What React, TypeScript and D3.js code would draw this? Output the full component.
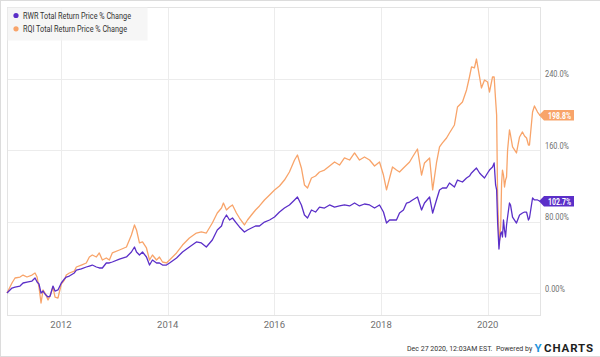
import React from "react";
import * as d3 from "d3";

const dates = [
  "2010-12-27","2011-01-30","2011-02-20","2011-03-26","2011-04-16","2011-05-13","2011-06-16","2011-07-07","2011-07-21","2011-08-03",
  "2011-08-17","2011-08-31","2011-09-13","2011-10-04","2011-10-18","2011-11-07","2011-11-21","2011-12-11","2012-01-03","2012-01-24",
  "2012-02-06","2012-02-27","2012-04-01","2012-04-15","2012-05-19","2012-06-22","2012-07-13","2012-08-02","2012-08-30","2012-09-19",
  "2012-10-10","2012-11-06","2012-11-27","2012-12-17","2013-02-04","2013-03-24","2013-04-27","2013-05-18","2013-06-01","2013-06-21",
  "2013-07-12","2013-08-08","2013-08-29","2013-09-18","2013-10-16","2013-11-05","2013-11-26","2013-12-23","2014-01-13","2014-03-02",
  "2014-04-12","2014-05-29","2014-07-16","2014-08-19","2014-09-22","2014-11-02","2014-12-06","2015-01-04","2015-01-17","2015-02-07",
  "2015-02-28","2015-03-20","2015-04-16","2015-05-07","2015-06-10","2015-07-01","2015-07-28","2015-08-25","2015-09-21","2015-10-25",
  "2015-11-29","2016-01-02","2016-02-05","2016-03-10","2016-04-13","2016-05-18","2016-06-07","2016-07-04","2016-07-25","2016-08-15",
  "2016-09-11","2016-10-09","2016-11-05","2016-12-09","2017-01-13","2017-02-16","2017-03-22","2017-04-25","2017-05-30","2017-07-03",
  "2017-08-06","2017-09-09","2017-10-14","2017-11-17","2017-12-21","2018-01-17","2018-02-07","2018-02-28","2018-03-20","2018-04-16",
  "2018-05-07","2018-06-03","2018-06-24","2018-07-15","2018-08-04","2018-09-07","2018-10-05","2018-10-25","2018-11-29","2018-12-20",
  "2019-01-15","2019-02-05","2019-02-25","2019-03-25","2019-04-14","2019-05-18","2019-06-08","2019-07-12","2019-08-09","2019-08-29",
  "2019-09-12","2019-10-02","2019-10-16","2019-11-06","2019-11-19","2019-12-10","2019-12-31","2020-01-13","2020-02-03","2020-02-14",
  "2020-02-24","2020-03-02","2020-03-09","2020-03-18","2020-03-23","2020-03-30","2020-04-05","2020-04-11","2020-04-18","2020-04-25",
  "2020-05-02","2020-05-09","2020-05-16","2020-05-29","2020-06-05","2020-06-19","2020-07-16","2020-08-06","2020-08-26","2020-09-09",
  "2020-09-23","2020-10-06","2020-10-13","2020-11-03","2020-11-16","2020-12-07","2020-12-24",
];

const rwrValues = [
  0, 5.6, 6.7, 7.8, 11.2, 12.3, 13.4, 16.8, 12.3, 10.1,
  0, 2.2, -1.1, -4.5, -3.4, 7.8, 2.2, 3.4, 11.2, 15.7,
  17.9, 19.0, 22.4, 25.7, 26.9, 29.1, 30.2, 31.3, 29.1, 28.0,
  28.0, 33.6, 33.6, 34.7, 38.0, 40.3, 45.9, 51.5, 45.9, 42.5,
  45.9, 40.3, 31.3, 36.9, 33.6, 33.6, 31.3, 31.3, 33.6, 39.2,
  45.9, 51.5, 57.1, 56.0, 51.5, 59.3, 70.5, 75.0, 81.7, 87.3,
  81.7, 83.9, 78.3, 73.9, 68.3, 70.5, 72.7, 75.0, 75.0, 79.4,
  81.7, 85.0, 90.6, 95.1, 98.5, 104.1, 107.4, 98.5, 87.3, 83.9,
  92.9, 90.6, 96.2, 95.1, 98.5, 96.2, 97.4, 98.5, 97.4, 100.7,
  97.4, 99.6, 98.5, 95.1, 98.5, 90.6, 78.3, 81.7, 81.7, 81.7,
  89.5, 92.9, 100.7, 101.8, 104.1, 107.4, 92.9, 100.7, 107.4, 89.5,
  104.1, 115.3, 117.5, 117.5, 123.1, 118.6, 126.4, 124.2, 128.7, 130.9,
  134.3, 137.6, 139.9, 134.3, 132.0, 128.7, 134.3, 137.6, 141.0, 145.5,
  120.9, 115.3, 78.3, 49.2, 59.3, 67.1, 68.3, 62.7, 81.7, 70.5,
  62.7, 76.1, 85.0, 100.7, 98.5, 85.0, 78.3, 87.3, 89.5, 90.6,
  90.6, 81.7, 83.9, 106.3, 104.1, 104.1, 102.7,
];

const rqiValues = [
  0, 11.2, 16.8, 17.9, 20.1, 17.9, 20.1, 22.4, 17.9, 6.7,
  -11.2, 3.4, 0, -7.8, -3.4, 6.7, -4.5, -5.6, 10.1, 14.5,
  20.1, 22.4, 24.6, 29.1, 31.3, 33.6, 40.3, 42.5, 40.3, 44.8,
  36.9, 39.2, 36.9, 44.8, 48.1, 51.5, 64.9, 76.1, 70.5, 56.0,
  57.1, 50.4, 36.9, 42.5, 36.9, 40.3, 34.7, 33.6, 36.9, 44.8,
  53.7, 61.5, 67.1, 68.3, 67.1, 78.3, 89.5, 95.1, 100.7, 92.9,
  96.2, 98.5, 89.5, 83.9, 76.1, 81.7, 87.3, 92.9, 97.4, 104.1,
  109.7, 115.3, 119.7, 126.4, 135.4, 148.8, 154.4, 139.9, 120.9, 117.5,
  128.7, 130.9, 135.4, 137.6, 142.1, 146.6, 143.2, 151.1, 148.8, 156.7,
  148.8, 152.2, 148.8, 142.1, 146.6, 132.0, 115.3, 128.7, 141.0, 137.6,
  135.4, 139.9, 143.2, 146.6, 152.2, 161.1, 132.0, 145.5, 151.1, 115.3,
  145.5, 163.4, 167.9, 173.4, 179.0, 188.0, 208.1, 213.7, 227.2, 241.7,
  252.9, 251.8, 261.8, 241.7, 229.4, 238.3, 236.1, 224.9, 241.7, 241.7,
  216.0, 199.2, 104.1, 64.9, 59.3, 76.1, 123.1, 137.6, 132.0, 118.6,
  126.4, 129.8, 160.0, 182.4, 176.8, 163.4, 156.7, 174.6, 180.2, 175.7,
  173.4, 165.6, 165.6, 202.5, 209.3, 202.5, 198.8,
];

const seriesNames = ["RWR Total Return Price % Change", "RQI Total Return Price % Change"];
const yTicks = [0, 80, 160, 240];
const yTickLabels = ["0.00%", "80.00%", "160.0%", "240.0%"];
const xTickYears = [2012, 2014, 2016, 2018, 2020];
const endLabels = ["102.7%", "198.8%"];
const footerDate = "Dec 27 2020, 12:03AM EST.";

const W = 600;
const H = 357;
const PLOT = { left: 7, right: 540, top: 7, bottom: 315 };
const PURPLE = "#5b2fc8";
const ORANGE = "#f8a46a";
const FONT = "Roboto, 'Noto Sans', sans-serif";

export default function App() {
  const parsed = dates.map((d) => d3.timeParse("%Y-%m-%d")(d) as Date);
  const x = d3
    .scaleTime()
    .domain([parsed[0], parsed[parsed.length - 1]])
    .range([PLOT.left, PLOT.right]);
  const y = d3.scaleLinear().domain([-24.6, 320]).range([PLOT.bottom, PLOT.top]);

  const line = d3
    .line<number>()
    .x((_, i) => x(parsed[i]))
    .y((v) => y(v))
    .curve(d3.curveLinear);

  const series = [
    { name: seriesNames[1], values: rqiValues, color: ORANGE, label: endLabels[1] },
    { name: seriesNames[0], values: rwrValues, color: PURPLE, label: endLabels[0] },
  ];

  const legend = [
    { name: seriesNames[0], color: PURPLE, len: 108 },
    { name: seriesNames[1], color: ORANGE, len: 104 },
  ];

  return (
    <svg
      width={W}
      height={H}
      style={{ position: "absolute", left: 0, top: 0, background: "#fff" }}
      fontFamily={FONT}
    >
      <rect x={0.5} y={0.5} width={W} height={H - 1} fill="#fff" stroke="#dcdcdc" />
      {yTicks.map((t) => (
        <line
          key={"gy" + t}
          x1={PLOT.left}
          x2={PLOT.right}
          y1={Math.round(y(t)) + 0.5}
          y2={Math.round(y(t)) + 0.5}
          stroke="#ececec"
        />
      ))}
      {xTickYears.map((yr) => {
        const xx = Math.round(x(new Date(yr, 0, 1))) + 0.5;
        return (
          <line key={"gx" + yr} x1={xx} x2={xx} y1={PLOT.top} y2={PLOT.bottom} stroke="#ececec" />
        );
      })}
      <rect
        x={PLOT.left + 0.5}
        y={PLOT.top + 0.5}
        width={PLOT.right - PLOT.left}
        height={PLOT.bottom - PLOT.top}
        fill="none"
        stroke="#e3e3e3"
      />
      {series.map((s) => (
        <path
          key={s.name}
          d={line(s.values) || ""}
          fill="none"
          stroke={s.color}
          strokeWidth={1.3}
          strokeLinejoin="round"
        />
      ))}
      {yTicks.map((t, i) => (
        <text
          key={"yl" + t}
          x={545}
          y={y(t) - 1.5}
          fontSize={9.5}
          fill="#6f6f6f"
          textLength={yTickLabels[i].length * 4}
          lengthAdjust="spacingAndGlyphs"
        >
          {yTickLabels[i]}
        </text>
      ))}
      {xTickYears.map((yr) => (
        <text
          key={"xl" + yr}
          x={x(new Date(yr, 0, 1))}
          y={327.5}
          fontSize={9.5}
          fill="#6f6f6f"
          textAnchor="middle"
        >
          {String(yr)}
        </text>
      ))}
      {series.map((s) => {
        const v = s.values[s.values.length - 1];
        const cy = y(v);
        const tipX = PLOT.right - 1;
        const left = tipX + 5;
        const right = 574;
        const h = 10.5;
        const d = `M${tipX},${cy} L${left},${cy - h / 2} L${right},${cy - h / 2} L${right},${cy + h / 2} L${left},${cy + h / 2} Z`;
        return (
          <g key={"tag" + s.name}>
            <path d={d} fill={s.color} />
            <text
              x={(left + right) / 2 + 0.5}
              y={cy + 3.3}
              fontSize={9.5}
              fontWeight="bold"
              fill="#fff"
              textAnchor="middle"
              textLength={23}
              lengthAdjust="spacingAndGlyphs"
            >
              {s.label}
            </text>
          </g>
        );
      })}
      <rect x={7.5} y={7.5} width={140} height={33} fill="#f4f4f4" fillOpacity={0.85} />
      {legend.map((l, i) => (
        <g key={"lg" + i}>
          <circle cx={16} cy={15.5 + i * 13.3} r={2.6} fill={l.color} />
          <text
            x={23}
            y={18.8 + i * 13.3}
            fontSize={9.5}
            fill="#333"
            textLength={l.len}
            lengthAdjust="spacingAndGlyphs"
          >
            {l.name}
          </text>
        </g>
      ))}
      <text x={407} y={351} fill="#333" fontSize={7}>
        {footerDate}
      </text>
      <text x={496} y={351} fill="#333" fontSize={7}>
        Powered by
      </text>
      <text x={534.5} y={351.7} fontSize={11.5} fontWeight="bold" fill="#1f95dc">
        Y
      </text>
      <text x={544} y={351.7} fontSize={11.5} fontWeight="bold" fill="#1e1e1e" letterSpacing={0.9}>
        CHARTS
      </text>
    </svg>
  );
}
